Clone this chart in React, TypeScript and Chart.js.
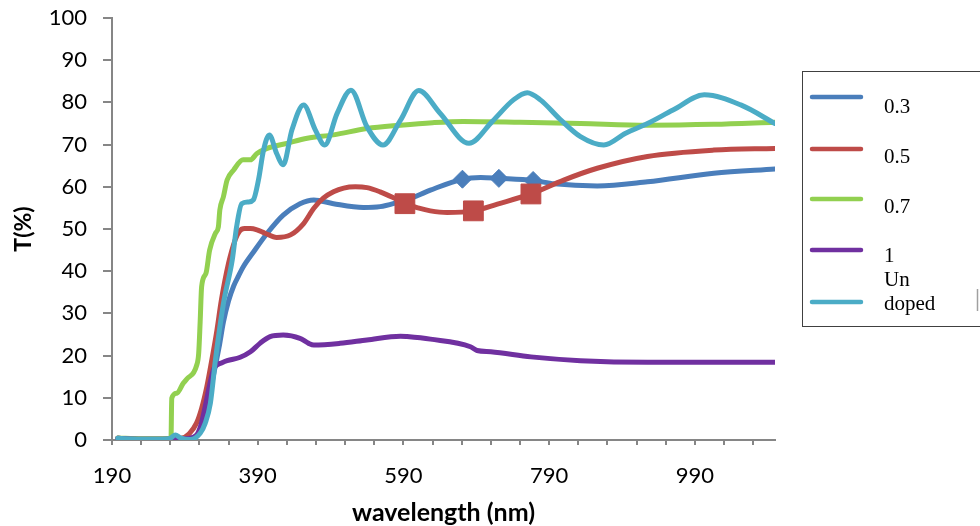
import React, { useEffect, useRef } from 'react';
import { Chart, registerables } from 'chart.js';

Chart.register(...registerables);

// ---- axis values ----
const X_MIN = 190;
const X_MAX = 1100;
const X_TICKS = [190, 230, 270, 310, 350, 390, 430, 470, 510, 550, 590, 630, 670, 710, 750, 790, 830, 870, 910, 950, 990, 1030, 1070];
const X_LABELS = [190, 390, 590, 790, 990];
const Y_MIN = 0;
const Y_MAX = 100;
const Y_STEP = 10;

// ---- series: 0.3 ----
const WL_03 = [198, 230, 260, 290, 305, 315, 322, 330, 337, 343, 350, 357, 364, 370, 384, 403, 425, 448, 467, 494, 535, 558, 586, 595, 627, 671, 696, 721, 768, 797, 856, 925, 1016, 1100];
const T_03 = [0.4, 0.2, 0.2, 0.3, 0.8, 4, 9, 16, 22, 28, 33, 36.5, 39, 41, 44.5, 49, 53.3, 56, 56.9, 56, 55.1, 55.3, 56.5, 56.9, 59.2, 61.8, 62.2, 62, 61.5, 60.7, 60.2, 61.2, 63.2, 64.2];
const MARK_03 = [671, 721, 768];

// ---- series: 0.5 ----
const WL_05 = [198, 230, 260, 285, 296, 306, 313, 320, 326, 334, 340, 350, 359, 365, 372, 380, 389, 400, 416, 435, 453, 467, 480, 494, 508, 524, 540, 558, 575, 592, 610, 627, 650, 686, 719, 765, 810, 856, 925, 1016, 1100];
const T_05 = [0.4, 0.2, 0.2, 0.4, 1.5, 4, 7.5, 12.5, 18, 26, 33, 41.9, 47.4, 49.5, 50.1, 50.1, 49.8, 49, 48, 48.6, 51.3, 54.9, 57.3, 58.8, 59.7, 60, 59.8, 58.8, 57.5, 56, 55, 54.3, 53.9, 54.3, 55.9, 58.3, 61.6, 64.4, 67.2, 68.7, 69.1];
const MARK_05 = [592, 686, 765];

// ---- series: 0.7 ----
const WL_07 = [198, 230, 260, 271, 272, 279, 288, 293, 306, 309, 311, 313, 319, 324, 332, 336, 338, 343, 348, 357, 370, 380, 389, 403, 430, 458, 494, 540, 586, 630, 672, 750, 833, 925, 1016, 1100];
const T_07 = [0.5, 0.3, 0.3, 0.5, 9.9, 11.1, 13.5, 14.5, 17.6, 20.6, 28, 36.3, 39.5, 45, 49, 50.5, 54.5, 57.7, 61.6, 64, 66.4, 66.4, 67.9, 69.1, 70.3, 71.5, 72.3, 73.8, 74.6, 75.2, 75.5, 75.3, 75, 74.6, 74.8, 75.3];

// ---- series: 1 ----
const WL_1 = [198, 230, 260, 290, 305, 312, 318, 324, 330, 341, 348, 366, 380, 393, 407, 425, 448, 460, 467, 503, 540, 586, 595, 627, 682, 691, 710, 765, 833, 925, 1016, 1100];
const T_1 = [0.4, 0.2, 0.2, 0.3, 1, 3.5, 8, 13, 17, 18.3, 18.8, 19.6, 20.9, 22.9, 24.5, 24.9, 24.1, 22.9, 22.5, 22.9, 23.7, 24.6, 24.5, 23.9, 22.1, 21.2, 20.9, 19.7, 18.8, 18.4, 18.4, 18.4];

// ---- series: Undoped ----
const WL_U = [198, 230, 260, 270, 277, 284, 297, 311, 318, 325, 332, 343, 355, 361, 368, 377, 384, 391, 398, 406, 416, 425, 437, 453, 469, 482, 499, 518, 540, 562, 586, 611, 640, 680, 712, 741, 760, 778, 805, 833, 865, 895, 925, 960, 1003, 1053, 1100];
const T_U = [0.4, 0.2, 0.2, 0.4, 1.2, 0.5, 0.1, 1.6, 4, 8.7, 19, 32.4, 42.6, 50.5, 56, 56.4, 56.9, 61.6, 68.7, 72.3, 67.9, 65.2, 73.5, 79.4, 73.5, 69.9, 77.4, 82.9, 74.2, 69.9, 75.8, 82.8, 77.5, 70.3, 75.5, 80.6, 82.3, 80.6, 76, 71.9, 69.9, 72.7, 75, 78.2, 81.8, 79.4, 75];

const SERIES_NAMES = ['0.3', '0.5', '0.7', '1', 'Undoped'];
const LEGEND_TEXT = [['0.3'], ['0.5'], ['0.7'], ['1'], ['Un', 'doped']];
const COLORS = ['#4a7ebb', '#be4b48', '#92d050', '#7030a0', '#4bacc6'];

const toPts = (xs: number[], ys: number[]) => xs.map((x, i) => ({ x, y: ys[i] }));

const legendPlugin = {
  id: 'customLegend',
  afterDraw(chart: any) {
    const ctx = chart.ctx as CanvasRenderingContext2D;
    ctx.save();
    ctx.strokeStyle = '#404040';
    ctx.lineWidth = 1;
    ctx.strokeRect(802.5, 71.5, 220, 255);
    const lineYs = [97, 149, 199, 250, 302];
    const textYs = [[113], [163], [213], [262], [286, 310]];
    ctx.lineCap = 'round';
    ctx.lineWidth = 4.5;
    ctx.font = '21px "Liberation Serif", "Times New Roman", serif';
    ctx.fillStyle = '#000';
    ctx.textAlign = 'left';
    ctx.textBaseline = 'alphabetic';
    for (let i = 0; i < COLORS.length; i++) {
      ctx.strokeStyle = COLORS[i];
      ctx.beginPath();
      ctx.moveTo(812, lineYs[i]);
      ctx.lineTo(861, lineYs[i]);
      ctx.stroke();
      LEGEND_TEXT[i].forEach((t, j) => ctx.fillText(t, 884, textYs[i][j]));
    }
    // stray mark at right edge
    ctx.strokeStyle = '#a0a0a0';
    ctx.lineWidth = 1.5;
    ctx.lineCap = 'butt';
    ctx.beginPath();
    ctx.moveTo(977.5, 289);
    ctx.lineTo(977.5, 311);
    ctx.stroke();
    ctx.restore();
  },
};

export default function App() {
  const ref = useRef<HTMLCanvasElement | null>(null);
  useEffect(() => {
    document.body.style.margin = '0';
    const canvas = ref.current;
    if (!canvas) return;
    const mk = (i: number, xs: number[], ys: number[], order: number, extra: any = {}) => ({
      label: SERIES_NAMES[i],
      data: toPts(xs, ys),
      borderColor: COLORS[i],
      backgroundColor: COLORS[i],
      borderWidth: 5,
      borderCapStyle: 'round',
      borderJoinStyle: 'round',
      cubicInterpolationMode: 'monotone',
      pointRadius: 0,
      pointHoverRadius: 0,
      order,
      ...extra,
    });
    const chart = new Chart(canvas, {
      type: 'line',
      data: {
        datasets: [
          mk(0, WL_03, T_03, 4, {
            pointStyle: 'rectRot',
            pointRadius: WL_03.map((w) => (MARK_03.includes(w) ? 9 : 0)),
            pointBorderWidth: 1,
            pointBorderColor: COLORS[0],
          }),
          mk(1, WL_05, T_05, 3, {
            pointStyle: 'rect',
            pointRadius: WL_05.map((w) => (MARK_05.includes(w) ? 14 : 0)),
            pointBorderWidth: 1,
            pointBorderColor: COLORS[1],
          }),
          mk(2, WL_07, T_07, 2),
          mk(3, WL_1, T_1, 1),
          mk(4, WL_U, T_U, 0),
        ],
      } as any,
      options: {
        animation: false,
        responsive: false,
        maintainAspectRatio: false,
        events: [],
        layout: { padding: { top: 18, right: 205, left: 0, bottom: 0 } },
        plugins: { legend: { display: false }, tooltip: { enabled: false } },
        scales: {
          x: {
            type: 'linear',
            min: X_MIN,
            max: X_MAX,
            afterBuildTicks: (s: any) => {
              s.ticks = X_TICKS.map((v) => ({ value: v }));
            },
            afterFit: (s: any) => {
              s.height = 86;
              s.paddingLeft = 0;
              s.paddingRight = 0;
            },
            ticks: {
              autoSkip: false,
              maxRotation: 0,
              padding: 18,
              color: '#000',
              font: { family: 'Lato', size: 22 },
              callback: (v: any) => (X_LABELS.includes(Number(v)) ? String(v) : ''),
            },
            grid: { drawOnChartArea: false, drawTicks: true, tickLength: 5, color: '#868686', lineWidth: 2 },
            border: { display: true, color: '#868686', width: 2 },
            title: {
              display: true,
              text: 'wavelength (nm)',
              color: '#000',
              font: { family: 'Lato', size: 25, weight: 'bold' },
              padding: { top: 0, bottom: -2 },
            },
          },
          y: {
            min: Y_MIN,
            max: Y_MAX,
            afterFit: (s: any) => {
              s.width = 112;
              s.paddingTop = 0;
              s.paddingBottom = 0;
            },
            ticks: {
              stepSize: Y_STEP,
              padding: 16,
              color: '#000',
              font: { family: 'Lato', size: 22 },
            },
            grid: { drawOnChartArea: false, drawTicks: true, tickLength: 9, color: '#868686', lineWidth: 2 },
            border: { display: true, color: '#868686', width: 2 },
            title: {
              display: true,
              text: 'T(%)',
              color: '#000',
              font: { family: 'Lato', size: 23, weight: 'bold' },
              padding: { top: 10, bottom: 0 },
            },
          },
        },
      } as any,
      plugins: [legendPlugin],
    });
    return () => chart.destroy();
  }, []);
  return (
    <div style={{ width: 980, height: 526, position: 'relative', background: '#fff' }}>
      <canvas ref={ref} width={980} height={526} style={{ display: 'block', width: 980, height: 526 }} />
    </div>
  );
}
